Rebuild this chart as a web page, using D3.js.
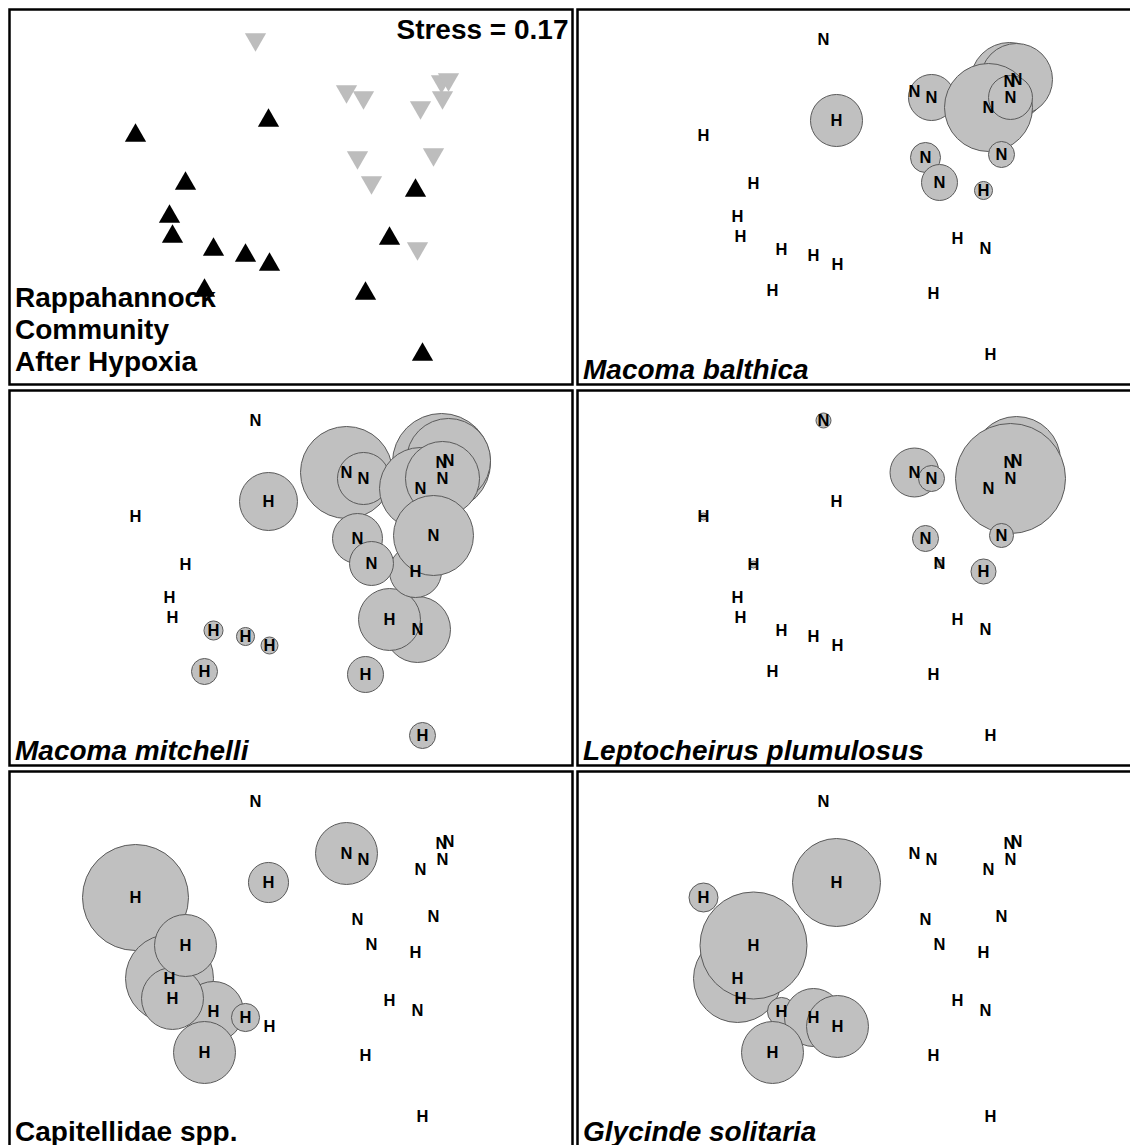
<!DOCTYPE html>
<html>
<head>
<meta charset="utf-8">
<script src="https://cdn.jsdelivr.net/npm/d3@7"></script>
<style>
  html, body { margin: 0; padding: 0; background: #fff; }
  svg { display: block; font-family: "Liberation Sans", Arial, Helvetica, sans-serif; }
</style>
</head>
<body>
<svg id="chart" width="1130" height="1145"></svg>
<script>
// ---- Data (MDS ordination of stations) ----
const condition = ["H","H","H","H","H","H","H","H","H","H","H","N","H","H",
                   "N","N","N","N","N","N","N","N","N","N"];
const mds1 = [-1.54,-1.20,-0.76,-1.17,-1.04,-0.21,-0.44,-0.20,-0.85,0.76,1.33,1.28,1.00,1.26,
              -0.34,0.57,0.74,1.52,1.59,1.31,1.53,0.68,0.82,1.44];
const mds2 = [0.74,-0.07,-0.40,-0.27,0.26,0.89,-0.46,-0.55,-0.81,-0.84,-1.45,-0.39,-0.29,0.19,
              1.70,1.18,1.12,1.28,1.30,1.02,1.12,0.52,0.27,0.55];

// Relative abundance per station (bubble size)
const macomaBalthica = [0,0,0,0,0,21.6,0,0,0,0,0,0,0,2.6,0,0,16.9,48.5,41.3,61.7,15.4,7.2,10.3,5.4];
const macomaMitchelli = [0,0,2.9,0,0,26.8,2.6,2.3,5.4,10.3,5.4,34.7,30.6,21.6,0,67.5,21.6,76.6,56.3,53.6,43.7,19.9,15.4,51.0];
const leptocheirus = [0.4,0,0,0,0.4,0,0,0,0,0,0,0,0,5.0,1.8,19.1,5.4,0,61.7,0,96.5,5.4,0.5,4.6];
const capitellidae = [89.6,61.7,28.7,30.6,30.6,12.8,6.3,0,30.6,0,0,0,0,0,0,30.6,0,0,0,0,0,0,0,0];
const glycinde = [6.7,61.7,6.3,0,91.3,61.7,26.8,30.6,30.6,0,0,0,0,0,0,0,0,0,0,0,0,0,0,0];

const panelTitles = ["Macoma balthica","Macoma mitchelli","Leptocheirus plumulosus","Capitellidae spp.","Glycinde solitaria"];
const panelItalic = [true,true,true,false,true];
const panelValues = [macomaBalthica, macomaMitchelli, leptocheirus, capitellidae, glycinde];
const communityTitle = ["Rappahannock","Community","After Hypoxia"];
const stressLabel = "Stress = 0.17";

// ---- Layout ----
const svg = d3.select("#chart");
const W = 563, H = 375;
const lefts = [9.5, 577.5], tops = [9.5, 390.5, 771.5];
const x = d3.scaleLinear().domain([-2.8, 2.83]).range([0, W]);
const y = d3.scaleLinear().domain([2.0, -1.75]).range([0, H]);
const r = d3.scaleSqrt().domain([0, 100]).range([0, 56]);

const stations = condition.map((c, i) => ({c, x: mds1[i], y: mds2[i], i}));

function panel(idx) {
  const col = idx % 2, row = Math.floor(idx / 2);
  return svg.append("g").attr("transform", `translate(${lefts[col]},${tops[row]})`);
}

// Panel 0: community ordination
{
  const g = panel(0);
  g.append("rect").attr("width", W).attr("height", H).attr("fill", "#fff");
  g.selectAll("text.ct").data(communityTitle).join("text")
    .attr("x", 5.5).attr("y", (d, i) => 297.5 + i * 32)
    .attr("font-size", 28).attr("font-weight", "bold").attr("fill", "#000")
    .text(d => d);
  g.append("text").attr("x", W - 4).attr("y", 29).attr("text-anchor", "end")
    .attr("font-size", 28).attr("font-weight", "bold").text(stressLabel);
  const tri = d3.symbol().type(d3.symbolTriangle).size(195);
  g.selectAll("path.s").data(stations).join("path")
    .attr("d", tri)
    .attr("transform", d => `translate(${x(d.x)},${y(d.y)}) rotate(${d.c === "N" ? 180 : 0})`)
    .attr("fill", d => d.c === "N" ? "#bdbdbd" : "#000");
  g.append("rect").attr("width", W).attr("height", H).attr("fill", "none")
    .attr("stroke", "#000").attr("stroke-width", 2.5);
}

// Species bubble panels
panelValues.forEach((vals, k) => {
  const g = panel(k + 1);
  g.append("rect").attr("width", W).attr("height", H).attr("fill", "#fff");
  const data = stations.map(s => ({...s, v: vals[s.i]}));
  g.selectAll("circle").data(data.filter(d => d.v > 0)).join("circle")
    .attr("cx", d => x(d.x)).attr("cy", d => y(d.y)).attr("r", d => r(d.v))
    .attr("fill", "#c0c0c0").attr("stroke", "#5a5a5a").attr("stroke-width", 1);
  g.selectAll("text.lab").data(data).join("text")
    .attr("class", "lab")
    .attr("x", d => x(d.x)).attr("y", d => y(d.y)).attr("dy", "0.36em")
    .attr("text-anchor", "middle").attr("font-size", 16.5).attr("font-weight", "bold")
    .attr("fill", "#000")
    .text(d => d.c);
  g.append("text").attr("x", 5.5).attr("y", 369.5)
    .attr("font-size", 28).attr("font-weight", "bold")
    .attr("font-style", panelItalic[k] ? "italic" : "normal")
    .text(panelTitles[k]);
  g.append("rect").attr("width", W).attr("height", H).attr("fill", "none")
    .attr("stroke", "#000").attr("stroke-width", 2.5);
});
</script>
</body>
</html>
